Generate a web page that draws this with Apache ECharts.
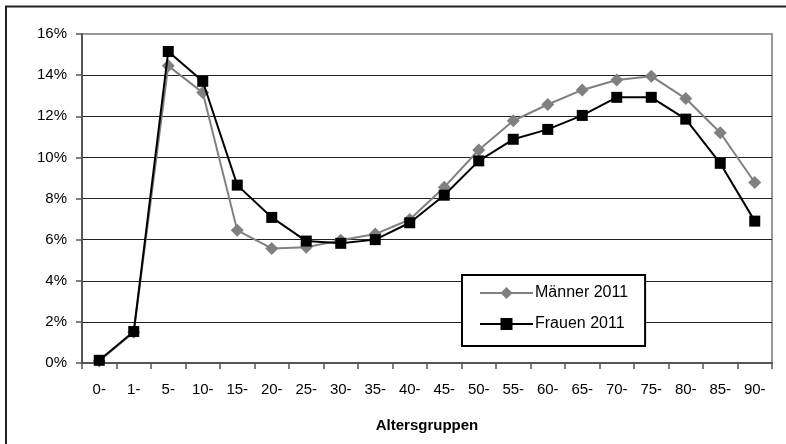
<!DOCTYPE html>
<html>
<head>
<meta charset="utf-8">
<script src="https://cdn.jsdelivr.net/npm/echarts@6/dist/echarts.min.js"></script>
<style>
  html, body { margin: 0; padding: 0; background: #fff; }
  #chart { width: 786px; height: 444px; }
</style>
</head>
<body>
<div id="chart"></div>
<script>
// Altersgruppen (x-Achse)
var ageGroups = ["0-", "1-", "5-", "10-", "15-", "20-", "25-", "30-", "35-", "40-",
  "45-", "50-", "55-", "60-", "65-", "70-", "75-", "80-", "85-", "90-"];

// Anteile in %
var maenner2011 = [0.1, 1.5, 14.45, 13.15, 6.45, 5.57, 5.63, 5.97, 6.27, 6.98,
  8.55, 10.36, 11.78, 12.57, 13.28, 13.76, 13.95, 12.86, 11.2, 8.78];
var frauen2011 = [0.13, 1.53, 15.15, 13.7, 8.65, 7.08, 5.93, 5.82, 6.0, 6.82,
  8.16, 9.83, 10.88, 11.36, 12.04, 12.92, 12.92, 11.86, 9.71, 6.9];

var yTicks = [0, 2, 4, 6, 8, 10, 12, 14, 16];

var chart = echarts.init(document.getElementById("chart"), null, { renderer: "canvas" });

var font = "Liberation Sans, Arial, sans-serif";

chart.setOption({
  animation: false,
  backgroundColor: "#fff",
  textStyle: { fontFamily: font },
  graphic: [
    {
      // äußerer Rahmen
      type: "rect",
      shape: { x: 6, y: 6.5, width: 800, height: 460 },
      style: { fill: null, stroke: "#222", lineWidth: 2 },
      silent: true,
      z: 0
    }
  ],
  grid: {
    left: 82,
    right: 14,
    top: 34,
    bottom: 81,
    show: true,
    borderColor: "#999",
    borderWidth: 2,
    backgroundColor: "transparent"
  },
  legend: {
    orient: "vertical",
    left: 462,
    top: 275,
    padding: [10, 17, 14, 17],
    itemWidth: 53,
    itemHeight: 15,
    itemGap: 15,
    borderColor: "#000",
    borderWidth: 2,
    backgroundColor: "#fff",
    textStyle: { fontFamily: font, fontSize: 16, color: "#000", padding: [0, 0, 0, -3] },
    data: ["Männer 2011", "Frauen 2011"]
  },
  xAxis: {
    type: "category",
    data: ageGroups,
    boundaryGap: true,
    name: "Altersgruppen",
    nameLocation: "middle",
    nameGap: 55,
    nameTextStyle: { fontFamily: font, fontSize: 15, fontWeight: "bold", color: "#000" },
    axisLine: { lineStyle: { color: "#555", width: 2 } },
    axisTick: { show: true, alignWithLabel: false, length: 6, lineStyle: { color: "#555", width: 1.5 } },
    axisLabel: { fontFamily: font, fontSize: 15, color: "#000", margin: 19, interval: 0 },
    splitLine: { show: false }
  },
  yAxis: {
    type: "value",
    min: yTicks[0],
    max: yTicks[yTicks.length - 1],
    interval: 2,
    axisLine: { show: true, lineStyle: { color: "#555", width: 2 } },
    axisTick: { show: true, length: 6, lineStyle: { color: "#555", width: 1.5 } },
    axisLabel: { fontFamily: font, fontSize: 15, color: "#000", margin: 15, formatter: "{value}%" },
    splitLine: {
      show: true,
      lineStyle: {
        width: 1.2,
        color: ["#222", "#222", "#222", "#222", "#222", "#222", "#222", "#222", "#999"]
      }
    }
  },
  series: [
    {
      name: "Männer 2011",
      type: "line",
      data: maenner2011,
      symbol: "diamond",
      symbolSize: [13, 13],
      showSymbol: true,
      lineStyle: { color: "#808080", width: 2 },
      itemStyle: { color: "#808080", borderWidth: 0 },
      z: 2
    },
    {
      name: "Frauen 2011",
      type: "line",
      data: frauen2011,
      symbol: "rect",
      symbolSize: 11,
      showSymbol: true,
      lineStyle: { color: "#000", width: 2 },
      itemStyle: { color: "#000", borderWidth: 0 },
      z: 3
    }
  ]
});
</script>
</body>
</html>
